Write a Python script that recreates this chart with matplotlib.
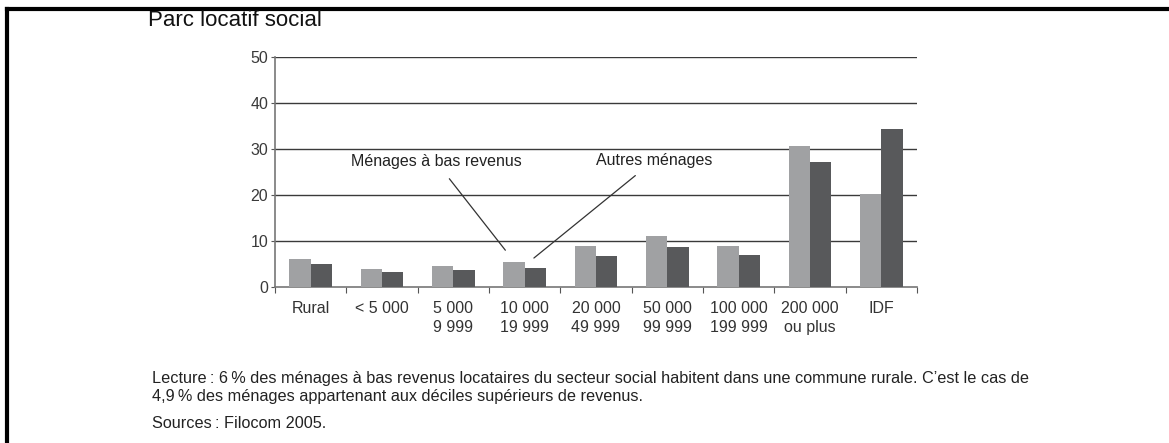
import matplotlib.pyplot as plt
import numpy as np
from matplotlib.lines import Line2D

categories = ["Rural", "< 5 000", "5 000\n9 999", "10 000\n19 999", "20 000\n49 999",
              "50 000\n99 999", "100 000\n199 999", "200 000\nou plus", "IDF"]
bas_revenus = [6.0, 4.0, 4.6, 5.4, 8.9, 11.0, 8.9, 30.6, 20.3]
autres = [4.9, 3.3, 3.6, 4.2, 6.8, 8.8, 7.0, 27.1, 34.4]
yticks = [0, 10, 20, 30, 40, 50]

font = ["Liberation Sans", "DejaVu Sans"]

fig = plt.figure(figsize=(11.69, 4.43), dpi=100)
ax = fig.add_axes([0.2352, 0.3521, 0.5492, 0.5192])

x = np.arange(len(categories))
w = 0.3
ax.bar(x - w / 2, bas_revenus, w, color="#a0a1a3", zorder=3)
ax.bar(x + w / 2, autres, w, color="#58595b", zorder=3)

ax.set_xlim(-0.5, len(categories) - 0.5)
ax.set_ylim(0, 50)
ax.set_yticks(yticks)
ax.set_yticklabels([str(v) for v in yticks], fontfamily=font, fontsize=11.5, color="#3a3a3a")
for v in yticks[1:]:
    ax.axhline(v, color="#3a3a3a", lw=1.0, zorder=1)

# category labels centred, boundary ticks
ax.set_xticks(np.arange(-0.5, len(categories)))
ax.set_xticklabels([])
ax.set_xticks(x, minor=True)
ax.set_xticklabels(categories, minor=True, fontfamily=font, fontsize=11.5,
                   color="#333333", va="top", ha="center", linespacing=1.35)
ax.tick_params(axis="x", which="major", length=4, color="#555555", direction="out")
ax.tick_params(axis="x", which="minor", length=0, pad=10)
ax.tick_params(axis="y", length=3, color="#555555", pad=2)

for s in ["top", "right"]:
    ax.spines[s].set_visible(False)
ax.spines["left"].set_color("#777777")
ax.spines["bottom"].set_color("#777777")
ax.spines["left"].set_linewidth(1.2)
ax.spines["bottom"].set_linewidth(1.2)
ax.set_facecolor("none")

# annotations
ax.annotate("Ménages à bas revenus", xy=(2.73, 8.0), xytext=(1.76, 27.2),
            ha="center", va="center", fontfamily=font, fontsize=11.5, color="#222222",
            arrowprops=dict(arrowstyle="-", color="#333333", lw=0.9, shrinkA=6, shrinkB=0))
ax.annotate("Autres ménages", xy=(3.13, 6.3), xytext=(4.82, 27.6),
            ha="center", va="center", fontfamily=font, fontsize=11.5, color="#222222",
            arrowprops=dict(arrowstyle="-", color="#333333", lw=0.9, shrinkA=6, shrinkB=0))

fig.text(148 / 1169, 1 - 21 / 443, "Parc locatif social", fontfamily=font,
         fontsize=16, color="#111111", va="center", ha="left")

fig.text(152 / 1169, 1 - 379 / 443,
         "Lecture\u2009: 6\u2009% des ménages à bas revenus locataires du secteur social habitent dans une commune rurale. C’est le cas de",
         fontfamily=font, fontsize=11.7, color="#222222", va="center")
fig.text(152 / 1169, 1 - 396 / 443,
         "4,9\u2009% des ménages appartenant aux déciles supérieurs de revenus.",
         fontfamily=font, fontsize=11.7, color="#222222", va="center")
fig.text(152 / 1169, 1 - 423 / 443, "Sources\u2009: Filocom 2005.",
         fontfamily=font, fontsize=11.7, color="#222222", va="center")

# partial frame: top and left lines
fig.add_artist(Line2D([7 / 1169, 1], [1 - 9 / 443, 1 - 9 / 443], color="black", lw=3,
                      transform=fig.transFigure))
fig.add_artist(Line2D([7 / 1169, 7 / 1169], [0, 1 - 9 / 443], color="black", lw=3,
                      transform=fig.transFigure))

fig.savefig("out.png", dpi=100)
